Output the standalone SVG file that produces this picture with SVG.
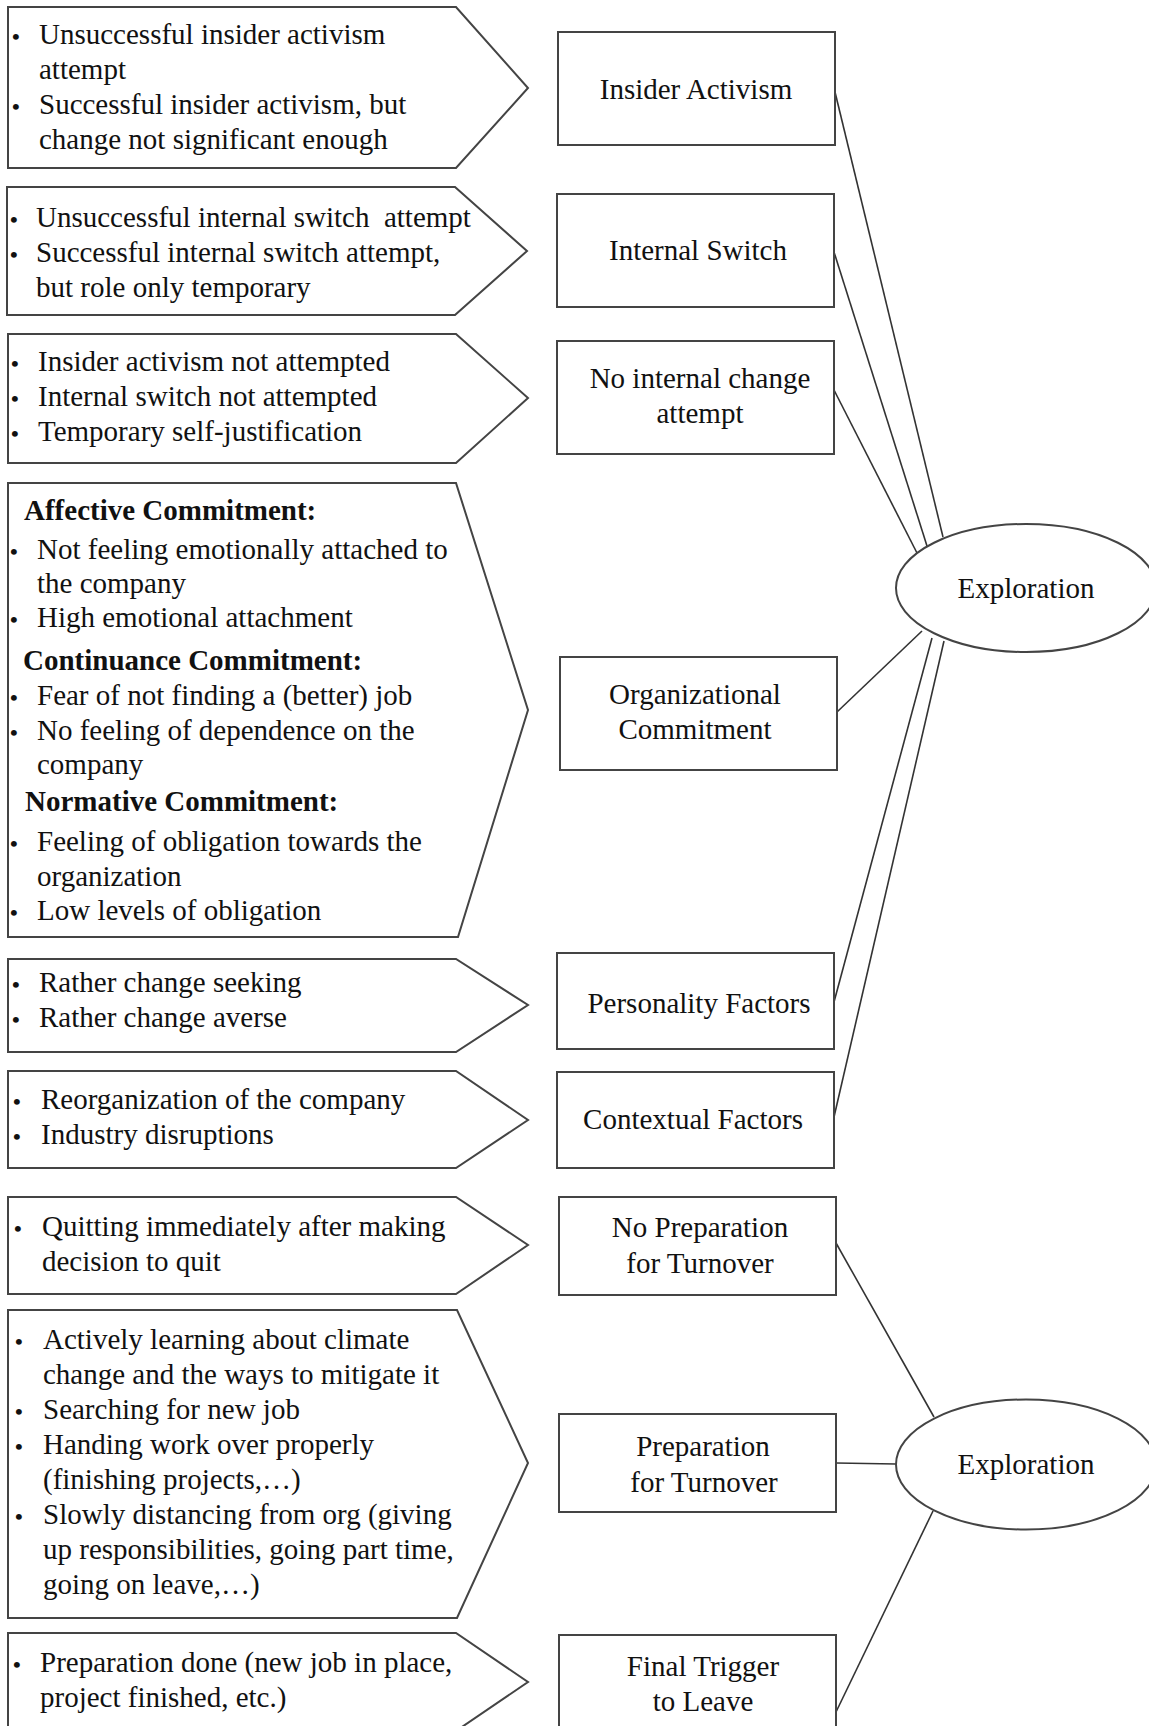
<svg xmlns="http://www.w3.org/2000/svg" width="1149" height="1726" viewBox="0 0 1149 1726">
<style>
text{font-family:"Liberation Serif","Times New Roman",serif;font-size:29px;fill:#111}
.h{font-weight:bold}
.b{font-size:22px;font-weight:bold}
.c{text-anchor:middle}
.shape{fill:#fff;stroke:#444;stroke-width:2}
.conn line{stroke:#333;stroke-width:1.6}
</style>
<rect width="1149" height="1726" fill="#fff"/>
<g id="connectors" class="conn">
<line x1="835" y1="92" x2="943" y2="537"/>
<line x1="834" y1="252" x2="927" y2="546"/>
<line x1="834" y1="390" x2="917" y2="553"/>
<line x1="837" y1="712" x2="922" y2="631"/>
<line x1="834" y1="1002" x2="932" y2="638"/>
<line x1="834" y1="1117" x2="944" y2="641"/>
<line x1="836" y1="1243" x2="934" y2="1417"/>
<line x1="836" y1="1463" x2="896" y2="1464"/>
<line x1="836" y1="1712" x2="933" y2="1511"/>
</g>
<g id="p1">
<path class="shape" d="M8,7 H456 L528,88 L456,168 H8 Z"/>
<text y="44"><tspan x="12" class="b">•</tspan><tspan x="39">Unsuccessful insider activism</tspan></text>
<text x="39" y="79">attempt</text>
<text y="114"><tspan x="12" class="b">•</tspan><tspan x="39">Successful insider activism, but</tspan></text>
<text x="39" y="149">change not significant enough</text>
</g>
<g id="p2">
<path class="shape" d="M7,187 H455 L527,251 L455,315 H7 Z"/>
<text y="227"><tspan x="10" class="b">•</tspan><tspan x="36" xml:space="preserve">Unsuccessful internal switch  attempt</tspan></text>
<text y="262"><tspan x="10" class="b">•</tspan><tspan x="36">Successful internal switch attempt,</tspan></text>
<text x="36" y="297">but role only temporary</text>
</g>
<g id="p3">
<path class="shape" d="M8,334 H456 L528,398 L456,463 H8 Z"/>
<text y="371"><tspan x="11" class="b">•</tspan><tspan x="38">Insider activism not attempted</tspan></text>
<text y="406"><tspan x="11" class="b">•</tspan><tspan x="38">Internal switch not attempted</tspan></text>
<text y="441"><tspan x="11" class="b">•</tspan><tspan x="38">Temporary self-justification</tspan></text>
</g>
<g id="p4">
<path class="shape" d="M8,483 H456 L528,710 L458,937 H8 Z"/>
<text class="h" x="24" y="520">Affective Commitment:</text>
<text y="559"><tspan x="10" class="b">•</tspan><tspan x="37">Not feeling emotionally attached to</tspan></text>
<text x="37" y="593">the company</text>
<text y="627"><tspan x="10" class="b">•</tspan><tspan x="37">High emotional attachment</tspan></text>
<text class="h" x="23" y="670">Continuance Commitment:</text>
<text y="705"><tspan x="10" class="b">•</tspan><tspan x="37">Fear of not finding a (better) job</tspan></text>
<text y="740"><tspan x="10" class="b">•</tspan><tspan x="37">No feeling of dependence on the</tspan></text>
<text x="37" y="774">company</text>
<text class="h" x="25" y="811">Normative Commitment:</text>
<text y="851"><tspan x="10" class="b">•</tspan><tspan x="37">Feeling of obligation towards the</tspan></text>
<text x="37" y="886">organization</text>
<text y="920"><tspan x="10" class="b">•</tspan><tspan x="37">Low levels of obligation</tspan></text>
</g>
<g id="p5">
<path class="shape" d="M8,959 H456 L528,1005 L456,1052 H8 Z"/>
<text y="992"><tspan x="12" class="b">•</tspan><tspan x="39">Rather change seeking</tspan></text>
<text y="1027"><tspan x="12" class="b">•</tspan><tspan x="39">Rather change averse</tspan></text>
</g>
<g id="p6">
<path class="shape" d="M8,1071 H456 L528,1120 L456,1168 H8 Z"/>
<text y="1109"><tspan x="13" class="b">•</tspan><tspan x="41">Reorganization of the company</tspan></text>
<text y="1144"><tspan x="13" class="b">•</tspan><tspan x="41">Industry disruptions</tspan></text>
</g>
<g id="p7">
<path class="shape" d="M8,1197 H456 L528,1245 L456,1294 H8 Z"/>
<text y="1236"><tspan x="14" class="b">•</tspan><tspan x="42">Quitting immediately after making</tspan></text>
<text x="42" y="1271">decision to quit</text>
</g>
<g id="p8">
<path class="shape" d="M8,1310 H457 L528,1463 L457,1618 H8 Z"/>
<text y="1349"><tspan x="15" class="b">•</tspan><tspan x="43">Actively learning about climate</tspan></text>
<text x="43" y="1384">change and the ways to mitigate it</text>
<text y="1419"><tspan x="15" class="b">•</tspan><tspan x="43">Searching for new job</tspan></text>
<text y="1454"><tspan x="15" class="b">•</tspan><tspan x="43">Handing work over properly</tspan></text>
<text x="43" y="1489">(finishing projects,…)</text>
<text y="1524"><tspan x="15" class="b">•</tspan><tspan x="43">Slowly distancing from org (giving</tspan></text>
<text x="43" y="1559">up responsibilities, going part time,</text>
<text x="43" y="1594">going on leave,…)</text>
</g>
<g id="p9">
<path class="shape" d="M8,1633 H456 L528,1682 L456,1731 H8 Z"/>
<text y="1672"><tspan x="13" class="b">•</tspan><tspan x="40">Preparation done (new job in place,</tspan></text>
<text x="40" y="1707">project finished, etc.)</text>
</g>
<g id="insider-activism">
<rect class="shape" x="558" y="32" width="277" height="113"/>
<text class="c" x="696" y="99">Insider Activism</text>
</g>
<g id="internal-switch">
<rect class="shape" x="557" y="194" width="277" height="113"/>
<text class="c" x="698" y="260">Internal Switch</text>
</g>
<g id="no-internal-change">
<rect class="shape" x="557" y="341" width="277" height="113"/>
<text class="c" x="700" y="388">No internal change</text>
<text class="c" x="700" y="423">attempt</text>
</g>
<g id="org-commitment">
<rect class="shape" x="560" y="657" width="277" height="113"/>
<text class="c" x="695" y="704">Organizational</text>
<text class="c" x="695" y="739">Commitment</text>
</g>
<g id="personality">
<rect class="shape" x="557" y="953" width="277" height="96"/>
<text class="c" x="699" y="1013">Personality Factors</text>
</g>
<g id="contextual">
<rect class="shape" x="557" y="1072" width="277" height="96"/>
<text class="c" x="693" y="1129">Contextual Factors</text>
</g>
<g id="no-preparation">
<rect class="shape" x="559" y="1197" width="277" height="98"/>
<text class="c" x="700" y="1237">No Preparation</text>
<text class="c" x="700" y="1273">for Turnover</text>
</g>
<g id="preparation">
<rect class="shape" x="559" y="1414" width="277" height="98"/>
<text class="c" x="703" y="1456">Preparation</text>
<text class="c" x="704" y="1492">for Turnover</text>
</g>
<g id="final-trigger">
<rect class="shape" x="559" y="1635" width="277" height="98"/>
<text class="c" x="703" y="1676">Final Trigger</text>
<text class="c" x="703" y="1711">to Leave</text>
</g>
<g id="exploration-1">
<ellipse class="shape" cx="1026" cy="588" rx="130" ry="64"/>
<text class="c" x="1026" y="598">Exploration</text>
</g>
<g id="exploration-2">
<ellipse class="shape" cx="1026" cy="1464.5" rx="130" ry="65"/>
<text class="c" x="1026" y="1474">Exploration</text>
</g>
</svg>
